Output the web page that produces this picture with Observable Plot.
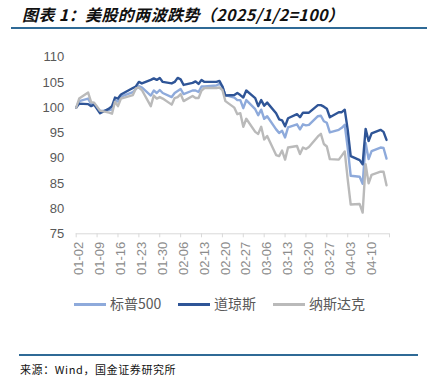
<!DOCTYPE html>
<html><head><meta charset="utf-8">
<script src="https://cdn.jsdelivr.net/npm/d3@7"></script>
<script src="https://cdn.jsdelivr.net/npm/@observablehq/plot@0.6"></script>
<style>
body{margin:0;background:#fff;}
#wrap{position:relative;width:427px;height:384px;overflow:hidden;font-family:"Noto Sans CJK SC",sans-serif;background:#fff;}
#title{position:absolute;left:22px;top:3px;font-size:16px;font-weight:bold;font-style:italic;color:#111;white-space:nowrap;line-height:22px;letter-spacing:0.4px;}
#tline{position:absolute;left:11px;right:0;top:27px;height:2px;background:#2f6a96;}
#chart{position:absolute;left:0;top:40px;}
#legend{position:absolute;left:0;top:293px;width:427px;height:20px;font-size:14px;color:#595959;}
.li{position:absolute;top:0;height:20px;line-height:20px;white-space:nowrap;}
.sw{display:inline-block;width:32px;height:3px;vertical-align:middle;margin-right:4px;position:relative;top:-1px;}
#bline{position:absolute;left:19px;width:399px;top:354px;height:1.5px;background:#2f6a96;}
#source{position:absolute;left:20px;top:361px;font-size:11px;line-height:16px;color:#111;white-space:nowrap;letter-spacing:0.6px;}
</style>
</head><body>
<div id="wrap">
  <div id="title">图表 1：美股的两波跌势（2025/1/2=100）</div>
  <div id="tline"></div>
  <div id="chart"></div>
  <div id="legend"></div>
  <div id="bline"></div>
  <div id="source">来源：Wind，国金证券研究所</div>
</div>
<script>
const dates = [
 "2025-01-02","2025-01-03","2025-01-06","2025-01-07","2025-01-08","2025-01-10","2025-01-13","2025-01-14","2025-01-15","2025-01-16","2025-01-17","2025-01-21","2025-01-22","2025-01-23","2025-01-24","2025-01-27","2025-01-28","2025-01-29","2025-01-30","2025-01-31",
 "2025-02-03","2025-02-04","2025-02-05","2025-02-06","2025-02-07","2025-02-10","2025-02-11","2025-02-12","2025-02-13","2025-02-14","2025-02-18","2025-02-19","2025-02-20","2025-02-21","2025-02-24","2025-02-25","2025-02-26","2025-02-27","2025-02-28",
 "2025-03-03","2025-03-04","2025-03-05","2025-03-06","2025-03-07","2025-03-10","2025-03-11","2025-03-12","2025-03-13","2025-03-14","2025-03-17","2025-03-18","2025-03-19","2025-03-20","2025-03-21","2025-03-24","2025-03-25","2025-03-26","2025-03-27","2025-03-28","2025-03-31",
 "2025-04-01","2025-04-02","2025-04-03","2025-04-04","2025-04-07","2025-04-08","2025-04-09","2025-04-10","2025-04-11","2025-04-14","2025-04-15","2025-04-16"
];
const sp500 = [
 100.0,101.3,101.8,100.7,100.8,99.3,99.5,99.6,101.4,101.2,102.2,103.1,103.7,104.3,104.0,102.4,103.4,102.9,103.5,102.9,
 102.1,102.9,103.3,103.7,102.7,103.4,103.4,103.1,104.2,104.2,104.4,104.7,104.2,102.5,102.0,101.5,101.5,99.9,101.5,
 99.7,98.5,99.6,97.8,98.3,95.7,95.0,95.4,94.1,96.1,96.7,95.7,96.7,96.5,96.6,98.3,98.4,97.3,97.0,95.1,95.6,
 96.0,96.6,92.0,86.5,86.3,84.9,93.0,89.8,91.4,92.1,92.0,89.9
];
const dow = [
 100.0,100.8,100.7,100.3,100.6,98.9,99.8,100.3,102.0,101.8,102.6,103.9,104.2,105.1,104.8,105.5,105.8,105.5,105.9,105.1,
 104.8,105.1,105.9,105.6,104.5,104.9,105.2,104.7,105.5,105.1,105.1,105.3,104.2,102.4,102.5,102.9,102.5,102.0,103.4,
 101.9,100.3,101.5,100.4,101.0,98.9,97.7,97.5,96.3,97.9,98.7,98.1,99.0,99.0,99.0,100.5,100.5,100.2,99.8,98.1,99.1,
 99.1,99.6,95.6,90.4,89.6,88.8,95.8,93.4,94.9,95.6,95.2,93.6
];
const nasdaq = [
 100.0,101.8,103.0,101.1,101.0,99.4,99.0,98.8,101.2,100.3,101.8,102.5,103.8,104.0,103.5,100.3,102.4,101.8,102.1,101.8,
 100.6,101.9,102.1,102.7,101.3,102.3,101.9,101.9,103.4,103.9,103.9,104.0,103.5,101.3,100.0,98.7,98.9,96.2,97.8,
 95.2,94.8,96.2,93.7,94.4,90.6,90.4,91.5,89.7,92.1,92.4,90.8,92.1,91.8,92.2,94.3,94.8,92.8,92.3,89.8,89.7,
 90.5,91.3,85.8,80.8,80.9,79.2,88.8,85.0,86.7,87.3,87.3,84.6
];
const seriesNames = ["标普500","道琼斯","纳斯达克"];
const seriesColors = ["#8eaadb","#2f5597","#bababa"];
const xTickLabels = ["01-02","01-09","01-16","01-23","01-30","02-06","02-13","02-20","02-27","03-06","03-13","03-20","03-27","04-03","04-10"];
const xAxisEnd = "04-17";
const yTicks = [75,80,85,90,95,100,105,110];

const parse = d3.utcParse("%Y-%m-%d");
const seriesValues = [sp500, dow, nasdaq];
const rows = [];
seriesNames.forEach((name, k) => {
  dates.forEach((d, i) => rows.push({date: parse(d), value: seriesValues[k][i], series: name}));
});
const tickDates = xTickLabels.concat([xAxisEnd]).map(s => parse("2025-" + s));
const fmt = d3.utcFormat("%m-%d");

const chart = Plot.plot({
  width: 427, height: 250,
  marginLeft: 75.7, marginRight: 38, marginTop: 16.7, marginBottom: 56.7,
  style: {fontFamily: "'Liberation Sans', Arial, sans-serif", background: "white", overflow: "visible"},
  x: {type: "utc", domain: [parse("2025-" + xTickLabels[0]), parse("2025-" + xAxisEnd)]},
  y: {domain: [75, 110]},
  color: {domain: seriesNames, range: seriesColors},
  marks: [
    Plot.ruleY([75], {stroke: "#d9d9d9", strokeWidth: 1}),
    Plot.axisY({ticks: yTicks, tickSize: 0, tickPadding: 12, fontSize: 13, fill: "#595959", label: null}),
    Plot.axisX({ticks: tickDates, tickSize: 4, stroke: "#d9d9d9", text: null, label: null}),
    Plot.axisX({ticks: tickDates, tickFormat: d => { const s = fmt(d); return xTickLabels.includes(s) ? s : ""; },
      tickRotate: -90, tickSize: 0, tickPadding: 8, fontSize: 13, fill: "#8c8c8c", dx: 3, label: null}),
    Plot.lineY(rows, {x: "date", y: "value", z: "series", stroke: "series", strokeWidth: 2.4, strokeLinejoin: "round", curve: "linear"})
  ]
});
document.getElementById("chart").appendChild(chart);

const legend = document.getElementById("legend");
const lx = [74, 178, 273];
seriesNames.forEach((name, k) => {
  const el = document.createElement("div");
  el.className = "li";
  el.style.left = lx[k] + "px";
  el.innerHTML = `<span class="sw" style="background:${seriesColors[k]}"></span>${name}`;
  legend.appendChild(el);
});
</script>
</body></html>
